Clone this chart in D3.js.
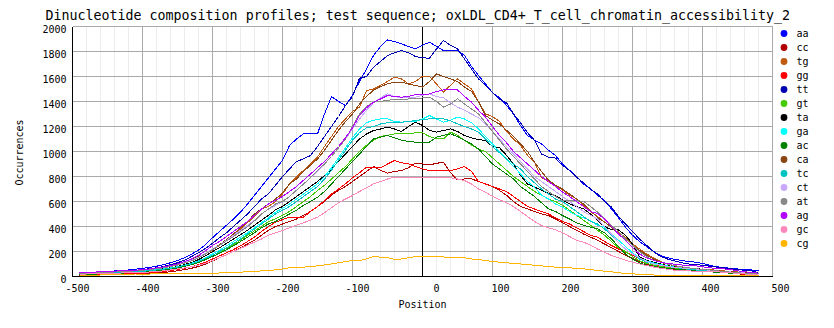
<!DOCTYPE html>
<html>
<head>
<meta charset="utf-8">
<script src="https://cdn.jsdelivr.net/npm/d3@7"></script>
<style>
  html, body { margin: 0; padding: 0; background: #fff; }
  svg { display: block; }
  text { font-family: "DejaVu Sans Mono", "Liberation Mono", monospace; fill: #000; }
</style>
</head>
<body>
<svg id="chart" width="834" height="328"></svg>
<script>
// Window positions (bp relative to the centre)
const positions = [
  -490,-480,-470,-460,-450,-440,-430,-420,-410,-400,
  -390,-380,-370,-360,-350,-340,-330,-320,-310,-300,
  -290,-280,-270,-260,-250,-240,-230,-220,-210,-200,
  -190,-180,-170,-160,-150,-140,-130,-120,-110,-100,
  -90,-80,-70,-60,-50,-40,-30,-20,-10,0,
  10,20,30,40,50,60,70,80,90,100,
  110,120,130,140,150,160,170,180,190,200,
  210,220,230,240,250,260,270,280,290,300,
  310,320,330,340,350,360,370,380,390,400,
  410,420,430,440,450,460,470,480
];

// Dinucleotide occurrence counts, one value per position
const aa = [30,32,35,38,40,44,48,52,58,65, 72,82,95,110,128,150,178,212,255,310,
  360,410,460,515,580,650,720,790,860,930, 1048,1100,1141,1141,1141,1300,1440,1400,1368,1450,
  1560,1660,1768,1840,1893,1880,1861,1840,1821,1850, 1874,1840,1808,1808,1808,1770,1680,1608,1540,1470,
  1430,1370,1300,1208,1128,1090,1061,1010,968,900, 850,800,740,700,650,608,540,470,395,330,
  280,240,200,168,150,138,128,120,115,105, 90,78,72,66,60,55,53,45];
const cc = [8,10,12,13,14,16,17,18,20,22, 25,28,32,38,45,55,66,80,100,125,
  150,175,200,230,260,290,330,370,400,420, 440,460,490,520,560,600,650,690,720,760,
  800,840,880,850,827,840,848,870,907,900, 893,905,915,830,773,780,781,760,741,720,
  688,650,600,560,541,520,500,488,460,430, 400,370,340,315,290,260,230,200,170,145,
  120,100,85,72,62,55,50,46,42,40, 38,35,32,28,22,16,12,8];
const tg = [22,25,28,30,32,35,38,40,44,50, 55,62,70,80,95,110,130,155,180,210,
  250,290,330,380,430,480,541,560,600,660, 741,795,850,901,955,1040,1120,1200,1261,1320,
  1355,1488,1500,1528,1560,1595,1580,1541,1560,1602, 1602,1540,1475,1530,1581,1540,1501,1400,1301,1280,
  1240,1160,1100,1048,970,915,790,760,720,693, 650,621,570,520,480,435,395,350,315,260,
  221,180,150,120,100,88,75,68,62,58, 55,50,45,40,36,32,30,25];
const gg = [10,12,14,15,16,18,20,22,24,26, 30,35,40,48,56,66,78,95,115,140,
  165,190,215,245,280,315,360,400,435,455, 475,475,475,520,560,608,660,700,741,790,
  830,875,869,869,900,928,910,901,880,860, 848,848,848,848,860,880,840,760,740,720,
  700,680,640,600,560,540,520,500,470,440, 420,390,360,330,315,280,248,220,195,170,
  141,120,101,85,72,60,55,50,48,45, 40,37,35,30,24,18,12,8];
const tt = [25,28,30,33,35,38,40,44,50,55, 62,70,80,95,110,130,160,190,225,266,
  310,350,400,450,500,560,620,661,730,800, 860,920,941,968,1040,1120,1200,1280,1368,1440,
  1586,1600,1674,1720,1768,1790,1808,1790,1760,1750, 1746,1820,1888,1850,1821,1740,1660,1581,1530,1470,
  1420,1390,1300,1230,1150,1090,980,955,947,888, 850,795,750,700,660,600,555,480,420,360,
  300,250,200,160,140,125,110,100,95,90, 82,75,70,62,55,50,45,32];
const gt = [15,18,20,22,24,26,28,30,34,38, 42,48,54,62,70,82,98,115,140,170,
  195,225,255,290,330,365,400,440,461,490, 520,560,600,640,688,730,780,830,880,940,
  1000,1050,1090,1120,1130,1141,1141,1145,1149,1149, 1120,1101,1101,1155,1130,1090,1050,1020,1000,950,
  900,850,800,760,720,680,650,620,600,570, 530,490,450,410,370,330,280,230,200,160,
  125,105,90,80,72,65,58,52,48,45, 40,36,32,28,24,20,18,15];
const ta = [20,22,25,28,30,33,36,40,42,46, 50,56,62,70,80,95,112,135,165,200,
  230,265,300,335,370,410,450,490,533,560, 600,640,680,720,760,808,860,920,980,1040,
  1100,1140,1168,1180,1195,1180,1160,1200,1235,1208, 1170,1155,1168,1181,1160,1128,1110,1095,1088,1040,
  1030,970,900,810,740,715,690,665,648,613, 581,560,541,500,448,400,373,373,330,260,
  155,130,115,100,88,78,70,66,64,58, 52,46,40,36,30,26,22,20];
const ga = [18,20,22,25,28,30,33,36,40,44, 48,54,60,68,78,90,105,125,150,180,
  210,245,280,315,350,390,430,470,515,545, 580,620,660,700,741,800,870,950,1030,1110,
  1180,1230,1250,1261,1261,1240,1235,1238,1240,1260, 1288,1260,1235,1250,1275,1260,1230,1181,1120,1060,
  1000,940,880,821,760,715,650,620,580,555, 520,490,470,448,410,395,340,290,240,190,
  150,125,110,95,85,75,68,60,55,50, 45,40,36,32,28,24,22,20];
const ac = [15,17,19,21,23,25,27,30,33,36, 40,45,52,60,68,80,95,112,135,160,
  185,215,245,280,315,350,390,420,440,470, 500,530,570,600,634,680,740,800,860,920,
  980,1040,1101,1115,1128,1110,1090,1080,1075,1075, 1075,1115,1130,1141,1120,1090,1060,1020,960,900,
  860,820,780,720,680,640,590,541,520,488, 460,430,410,395,381,350,300,240,180,140,
  110,90,80,72,66,60,55,50,45,42, 38,34,30,27,24,20,18,15];
const ca = [20,24,26,30,33,36,40,42,46,52, 58,66,75,85,98,115,135,160,185,215,
  255,295,340,390,440,500,541,580,620,670, 741,780,840,890,940,1010,1090,1170,1240,1300,
  1380,1440,1490,1520,1541,1555,1555,1540,1528,1515, 1560,1621,1600,1581,1560,1515,1480,1400,1288,1250,
  1220,1170,1120,1060,1000,915,840,770,730,700, 660,621,580,530,470,435,395,340,300,250,
  210,170,140,115,98,85,75,68,62,55, 50,46,42,38,35,32,28,24];
const tc = [18,20,22,24,26,28,31,34,38,42, 46,52,58,66,75,88,102,120,145,170,
  200,230,265,300,340,380,420,460,500,530, 560,600,640,680,720,780,850,930,1010,1090,
  1150,1190,1200,1220,1230,1230,1235,1240,1248,1255, 1261,1261,1261,1245,1221,1200,1180,1155,1100,1040,
  990,940,900,860,800,750,700,660,620,600, 560,520,480,440,420,380,330,270,220,180,
  140,115,100,90,80,72,65,58,52,48, 44,40,35,30,26,22,20,18];
const ct = [25,28,30,33,35,38,40,44,48,52, 58,64,72,82,95,110,130,155,185,220,
  250,290,330,370,410,450,500,540,568,600, 640,690,740,790,840,900,960,1030,1100,1180,
  1260,1330,1390,1430,1461,1440,1430,1435,1435,1450, 1461,1440,1430,1390,1355,1330,1300,1270,1220,1160,
  1100,1040,980,920,860,800,760,720,680,640, 600,560,520,490,460,400,340,270,220,180,
  150,120,100,90,80,72,68,64,60,55, 50,45,40,36,32,28,25,22];
const at = [22,25,28,30,33,36,40,42,45,50, 56,62,70,80,92,108,125,150,180,215,
  250,285,320,360,400,445,500,540,580,600, 640,690,740,790,850,900,960,1030,1100,1200,
  1300,1360,1395,1400,1410,1416,1416,1420,1421,1428, 1435,1400,1355,1380,1421,1380,1340,1301,1230,1160,
  1090,1020,960,900,840,780,720,680,640,608, 606,605,603,560,515,460,408,360,300,250,
  200,160,130,115,100,88,78,70,62,58, 52,46,40,35,30,26,22,20];
const ag = [30,32,35,38,40,43,46,48,50,55, 60,68,76,88,100,120,140,170,205,248,
  280,320,360,400,440,490,540,580,610,640, 680,720,770,820,870,920,980,1040,1110,1190,
  1288,1350,1395,1420,1448,1440,1435,1440,1456,1458, 1460,1480,1493,1493,1493,1440,1395,1330,1275,1200,
  1128,1070,1000,950,900,850,800,760,720,675, 640,600,560,520,504,460,400,340,288,230,
  180,150,130,115,105,98,92,88,85,78, 70,65,61,55,45,38,32,27];
const gc = [18,20,22,24,25,26,28,30,32,34, 36,40,45,52,60,68,78,90,105,128,
  150,175,200,225,250,275,300,330,350,368, 390,410,430,450,475,510,550,590,620,648,
  680,710,741,760,780,795,795,795,795,795, 795,795,795,790,780,768,740,700,675,640,
  615,590,560,520,480,440,408,390,373,350, 320,290,275,250,220,195,168,150,130,115,
  101,88,76,66,58,50,48,45,42,40, 38,37,35,30,25,20,18,16];
const cg = [8,8,10,12,14,15,16,18,20,20, 20,21,21,21,21,21,22,24,25,27,
  28,30,33,35,38,40,45,48,53,60, 70,75,75,80,85,93,100,110,120,128,
  128,140,160,155,150,138,140,150,160,160, 160,158,156,155,155,150,140,135,128,120,
  115,110,105,100,96,90,85,80,75,75, 70,65,61,55,48,43,38,30,24,21,
  18,15,12,10,10,8,8,8,8,8, 8,8,8,8,8,8,8,8];

const seriesNames  = ["aa","cc","tg","gg","tt","gt","ta","ga","ac","ca","tc","ct","at","ag","gc","cg"];
const seriesValues = [aa, cc, tg, gg, tt, gt, ta, ga, ac, ca, tc, ct, at, ag, gc, cg];
const seriesColors = ["#0000ff","#b00000","#c05a10","#ff0000","#0000b4","#44cc00","#000000","#00ffff",
                      "#008000","#8b4513","#00c4c4","#c8a8ff","#888888","#b400ff","#ff88bb","#ffb400"];

const xTicks = [-500,-400,-300,-200,-100,0,100,200,300,400,500];
const yTicks = [0,200,400,600,800,1000,1200,1400,1600,1800,2000];

const titleText = "Dinucleotide composition profiles; test sequence; oxLDL_CD4+_T_cell_chromatin_accessibility_2";

const svg = d3.select("#chart");
svg.append("rect").attr("width", 834).attr("height", 328).attr("fill", "#fff");

const x = d3.scaleLinear().domain([-500, 500]).range([72.5, 772.5]);
const y = d3.scaleLinear().domain([0, 2000]).range([276.5, 26.5]);

const grid = svg.append("g").attr("shape-rendering", "crispEdges");

// minor vertical grid every 20
grid.selectAll("line.minor")
  .data(d3.range(-480, 500, 20).filter(v => v % 100 !== 0))
  .join("line")
  .attr("x1", d => x(d)).attr("x2", d => x(d))
  .attr("y1", y(2000)).attr("y2", y(0))
  .attr("stroke", "#ececec");

// major vertical grid
grid.selectAll("line.vmaj")
  .data(xTicks.filter(v => v !== -500 && v !== 0))
  .join("line")
  .attr("x1", d => x(d)).attr("x2", d => x(d))
  .attr("y1", y(2000)).attr("y2", y(0))
  .attr("stroke", "#aaaaaa");

// horizontal grid
grid.selectAll("line.hmaj")
  .data(yTicks.filter(v => v !== 0))
  .join("line")
  .attr("x1", x(-500)).attr("x2", x(500))
  .attr("y1", d => y(d)).attr("y2", d => y(d))
  .attr("stroke", "#aaaaaa");

// centre line
grid.append("line")
  .attr("x1", x(0)).attr("x2", x(0))
  .attr("y1", y(2000)).attr("y2", y(0))
  .attr("stroke", "#000");

// axes
grid.append("line").attr("x1", x(-500)).attr("x2", x(-500))
  .attr("y1", y(2000)).attr("y2", y(0)).attr("stroke", "#000");
grid.append("line").attr("x1", x(-500)).attr("x2", x(500))
  .attr("y1", y(0)).attr("y2", y(0)).attr("stroke", "#000");

// profiles
const line = d3.line().x((d, i) => x(positions[i])).y(d => y(d));
svg.append("g")
  .selectAll("path")
  .data(seriesValues)
  .join("path")
  .attr("d", d => line(d))
  .attr("fill", "none")
  .attr("stroke", (d, i) => seriesColors[i])
  .attr("stroke-width", 1)
  .attr("shape-rendering", "crispEdges");

// tick labels
svg.append("g").selectAll("text")
  .data(yTicks)
  .join("text")
  .attr("x", 66.5)
  .attr("y", d => y(d) + 6)
  .attr("text-anchor", "end")
  .attr("font-size", "10px")
  .text(d => d);

svg.append("g").selectAll("text")
  .data(xTicks)
  .join("text")
  .attr("x", d => x(d) + 17)
  .attr("y", 291.5)
  .attr("text-anchor", "end")
  .attr("font-size", "10px")
  .text(d => d);

// titles
svg.append("text")
  .attr("x", 45.5).attr("y", 20.3)
  .attr("font-size", "13.3px")
  .text(titleText);

svg.append("text")
  .attr("x", x(0)).attr("y", 307.5)
  .attr("text-anchor", "middle")
  .attr("font-size", "10px")
  .text("Position");

svg.append("text")
  .attr("transform", "translate(22.5,152.5) rotate(-90)")
  .attr("text-anchor", "middle")
  .attr("font-size", "10px")
  .text("Occurrences");

// legend
const legend = svg.append("g");
const rows = legend.selectAll("g")
  .data(seriesNames)
  .join("g")
  .attr("transform", (d, i) => `translate(784,${33.5 + i * 14})`);
rows.append("path")
  .attr("d", d3.symbol(d3.symbolCircle, 36))
  .attr("fill", (d, i) => seriesColors[i]);
rows.append("text")
  .attr("x", 12.5).attr("y", 3.5)
  .attr("font-size", "10px")
  .text(d => d);
</script>
</body>
</html>
